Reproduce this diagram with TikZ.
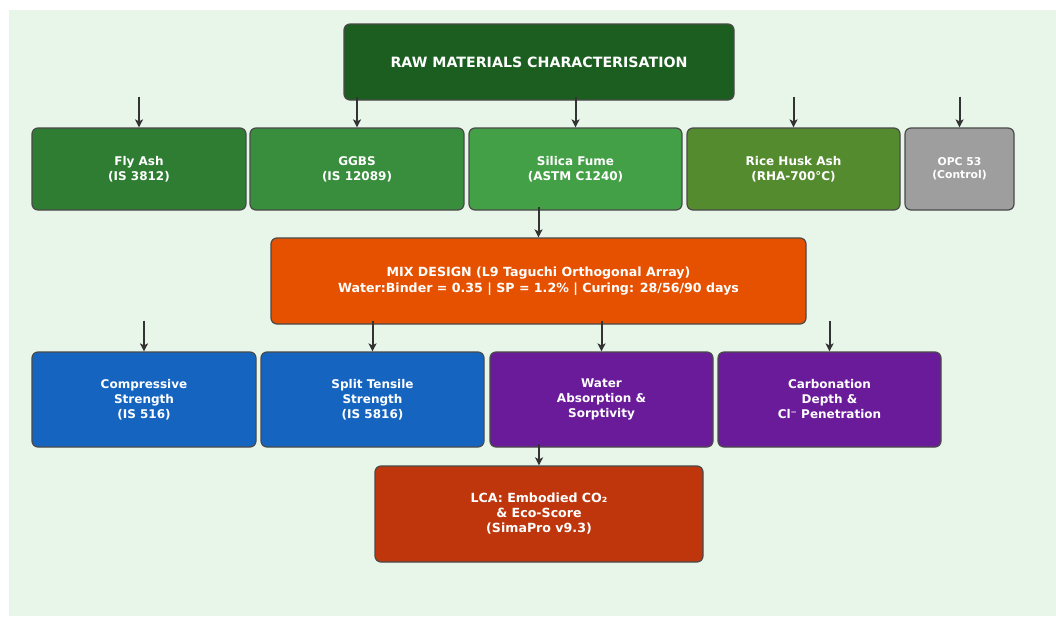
\documentclass[tikz,border=0pt]{standalone}
\usepackage{fontspec}
\setmainfont{DejaVu Sans}
\usetikzlibrary{arrows.meta}

\definecolor{panelbg}{HTML}{E8F5E9}
\definecolor{boxline}{HTML}{4A4A4A}
\definecolor{arrowgray}{HTML}{333333}
\definecolor{rawgreen}{HTML}{1B5E20}
\definecolor{flygreen}{HTML}{2E7D32}
\definecolor{ggbsgreen}{HTML}{388E3C}
\definecolor{silicagreen}{HTML}{43A047}
\definecolor{riceolive}{HTML}{558B2F}
\definecolor{opcgray}{HTML}{9E9E9E}
\definecolor{mixorange}{HTML}{E65100}
\definecolor{strengthblue}{HTML}{1565C0}
\definecolor{durapurple}{HTML}{6A1B9A}
\definecolor{lcared}{HTML}{BF360C}

\begin{document}
\begin{tikzpicture}[x=1pt, y=-1pt,
    box/.style={draw=boxline, line width=1.2pt, rounded corners=6pt, text=white,
        align=center, inner sep=0pt, font=\bfseries\fontsize{12}{15}\selectfont},
    arr/.style={draw=arrowgray, line width=2pt, -{Stealth[length=8pt, width=8pt, inset=2pt]}}]
    \useasboundingbox (0,0) rectangle (1056,616);
    \fill[panelbg] (9,10) rectangle (1056,616);

    % top
    \node[box, fill=rawgreen, minimum width=390pt, minimum height=76pt,
        font=\bfseries\fontsize{14.2}{17}\selectfont] (raw) at (539,62) {RAW MATERIALS CHARACTERISATION};

    % materials
    \node[box, fill=flygreen, minimum width=214pt, minimum height=82pt] (fly) at (139,169) {Fly Ash\\(IS 3812)};
    \node[box, fill=ggbsgreen, minimum width=214pt, minimum height=82pt] (ggbs) at (357,169) {GGBS\\(IS 12089)};
    \node[box, fill=silicagreen, minimum width=213pt, minimum height=82pt] (silica) at (575.5,169) {Silica Fume\\(ASTM C1240)};
    \node[box, fill=riceolive, minimum width=213pt, minimum height=82pt] (rice) at (793.5,169) {Rice Husk Ash\\(RHA-700°C)};
    \node[box, fill=opcgray, minimum width=109pt, minimum height=82pt,
        font=\bfseries\fontsize{10.8}{13}\selectfont] (opc) at (959.5,169) {OPC 53\\(Control)};

    % mix design
    \node[box, fill=mixorange, minimum width=535pt, minimum height=86pt,
        font=\bfseries\fontsize{12.6}{16}\selectfont] (mix) at (538.5,281)
        {MIX DESIGN (L9 Taguchi Orthogonal Array)\\Water:Binder = 0.35 | SP = 1.2\% | Curing: 28/56/90 days};

    % tests
    \node[box, fill=strengthblue, minimum width=224pt, minimum height=95pt] (comp) at (144,399.5) {Compressive\\Strength\\(IS 516)};
    \node[box, fill=strengthblue, minimum width=223pt, minimum height=95pt] (split) at (372.5,399.5) {Split Tensile\\Strength\\(IS 5816)};
    \node[box, fill=durapurple, minimum width=223pt, minimum height=95pt] (water) at (601.5,399.5) {Water\\Absorption \&\\Sorptivity};
    \node[box, fill=durapurple, minimum width=223pt, minimum height=95pt] (carb) at (829.5,399.5) {Carbonation\\Depth \&\\Cl⁻ Penetration};

    % lca
    \node[box, fill=lcared, minimum width=328pt, minimum height=96pt,
        font=\bfseries\fontsize{12.6}{15}\selectfont] (lca) at (539,514) {LCA: Embodied CO₂\\\& Eco-Score\\(SimaPro v9.3)};

    % arrows
    \path (raw.south) ++(0,-4) coordinate (rawbase);
    \path (silica.south) ++(0,-4) coordinate (silicabase);
    \path (mix.south) ++(0,-4) coordinate (mixbase);
    \path (water.south) ++(0,-4) coordinate (waterbase);
    \foreach \m in {fly,ggbs,silica,rice,opc}
        \draw[arr] (rawbase -| \m.north) -- (\m.north);
    \draw[arr] (silicabase -| mix.north) -- (mix.north);
    \foreach \t in {comp,split,water,carb}
        \draw[arr] (mixbase -| \t.north) -- (\t.north);
    \draw[arr] (waterbase -| lca.north) -- (lca.north);
\end{tikzpicture}
\end{document}
